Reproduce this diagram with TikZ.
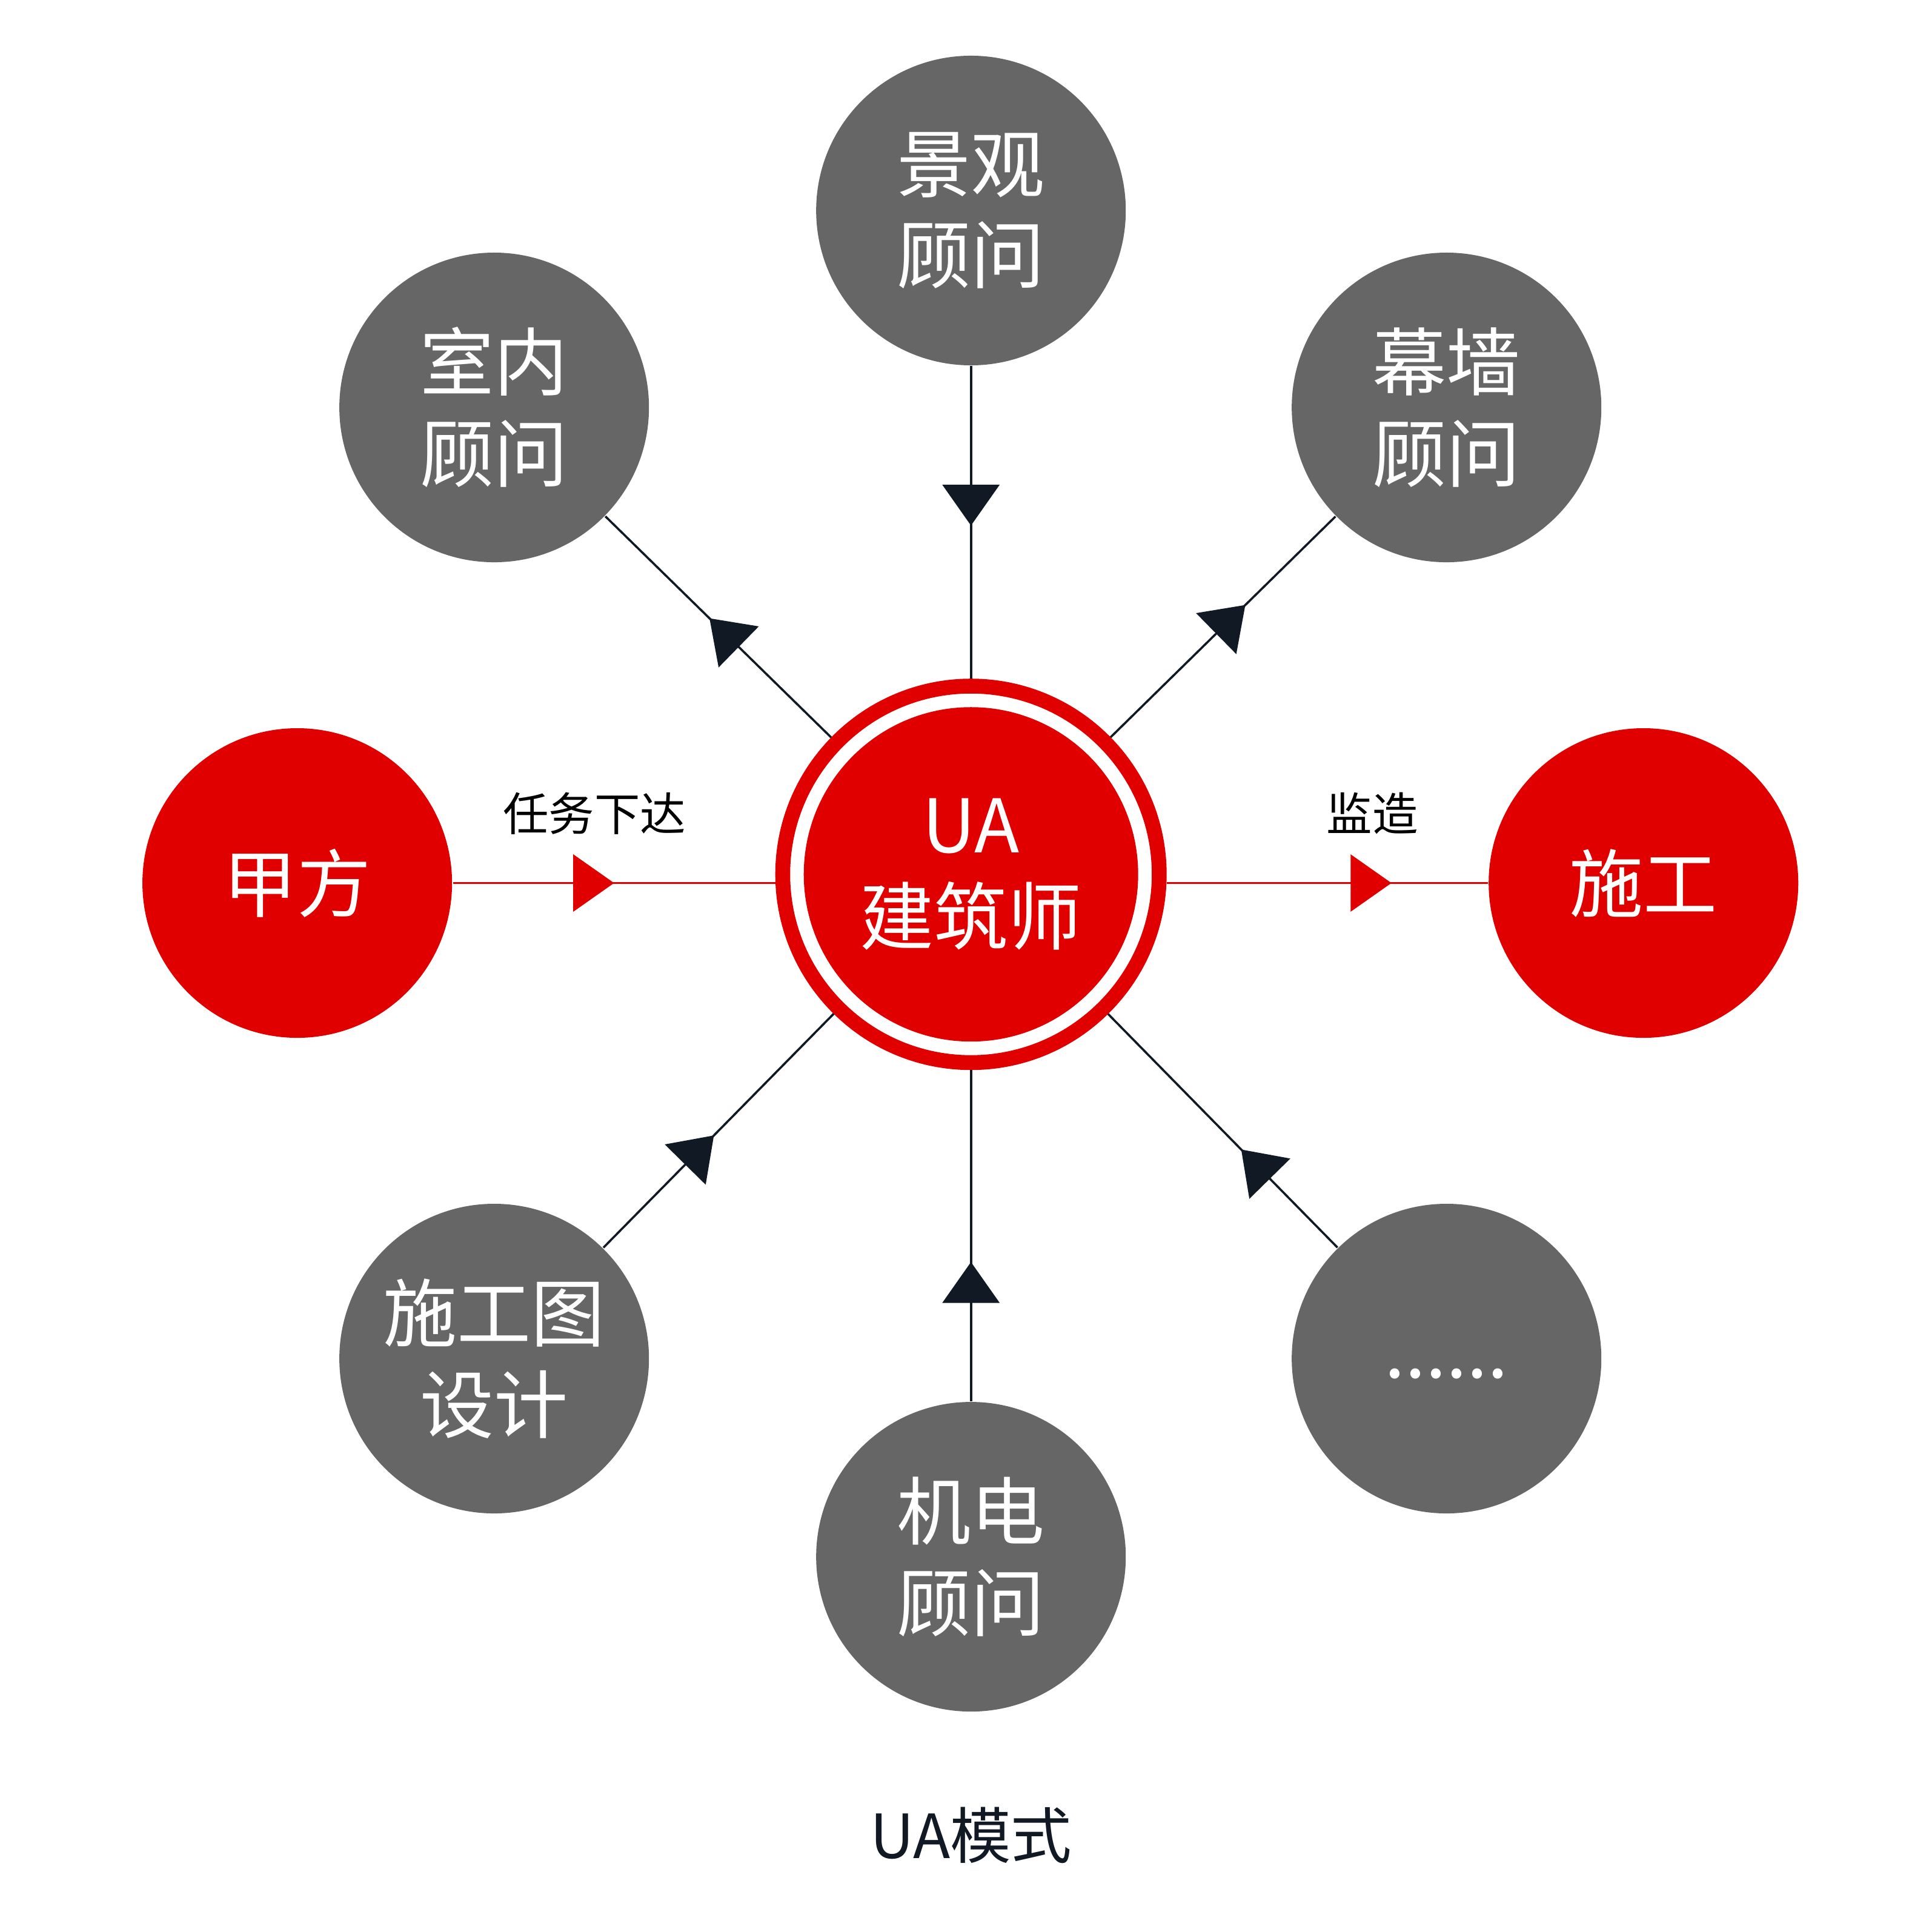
\documentclass[tikz,border=0pt]{standalone}
\usepackage{fontspec}
\setmainfont{Noto Sans CJK SC}
\usetikzlibrary{arrows.meta,decorations.markings}
\definecolor{uagray}{HTML}{666666}
\definecolor{uared}{HTML}{E00000}
\definecolor{uadark}{HTML}{111A24}
\tikzset{%
    party/.style={circle,minimum size=2.5cm,inner sep=0pt,fill=uagray,
        text=white,font=\fontsize{17}{21}\selectfont,align=center},
    redparty/.style={party,fill=uared},
    link/.style={line width=0.5pt,uadark},
    redlink/.style={line width=0.5pt,uared},
    tip at/.style={postaction={decorate},decoration={markings,
        mark=at position #1 with {\arrow{Triangle[length=0.33cm,width=0.46cm]}}}},
    edgetext/.style={font=\fontsize{10.5}{12}\selectfont,text=black}
}
\begin{document}
\begin{tikzpicture}

    \useasboundingbox (0,0) rectangle (15.6,-15.6);

    % centre: UA architect
    \node[circle,draw=uared,fill=white,line width=0.12cm,minimum size=3.04cm] (ua) at (7.84,-7.06) {};
    \fill[uared] (ua.center) circle (1.35);
    \node[text=white,font=\fontsize{17}{21}\selectfont,align=center] (ualabel) at (ua) {UA\\建筑师};

    % surrounding parties
    \node[party] (jg) at (7.84,-1.70) {景观\\顾问};
    \node[party] (sn) at (3.99,-3.29) {室内\\顾问};
    \node[party] (mq) at (11.68,-3.29) {幕墙\\顾问};
    \node[redparty] (jf) at (2.40,-7.13) {甲方};
    \node[redparty] (sg) at (13.27,-7.13) {施工};
    \node[party] (sgt) at (3.99,-10.97) {施工图\\设计};
    \node[party] (more) at (11.68,-10.97) {\raisebox{-1ex}{......}};
    \node[party] (jd) at (7.84,-12.57) {机电\\顾问};

    % connectors
    \draw[link,tip at=0.51] (jg) -- (ua);
    \draw[link,tip at=0.54] (ua) -- (sn);
    \draw[link,tip at=0.6] (ua) -- (mq);
    \draw[link,tip at=0.48] (sgt) -- (ua);
    \draw[link,tip at=0.42] (jd) -- (ua);
    \draw[link,tip at=0.42] (more) -- (ua);
    \draw[redlink,tip at=0.5,uared] (jf.east) -- (jf.east -| ua.west) coordinate (uaw);
    \draw[redlink,tip at=0.7,uared] (sg.west -| ua.east) coordinate (uae) -- (sg.west);

    % labels
    \node[edgetext] (rw) at (4.80,-6.57) {任务下达};
    \node[edgetext] (jz) at (11.08,-6.57) {监造};
    \node[font=\fontsize{14}{16}\selectfont,text=uadark] (title) at (7.84,-14.82) {UA模式};

\end{tikzpicture}
\end{document}
